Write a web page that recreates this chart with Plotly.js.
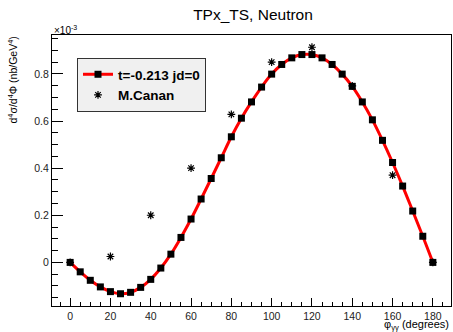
<!DOCTYPE html>
<html>
<head>
<meta charset="utf-8">
<script src="https://cdn.plot.ly/plotly-3.0.1.min.js"></script>
<style>html,body{margin:0;padding:0;background:#fff;}#plot{width:453px;height:332px;}</style>
</head>
<body>
<div id="plot"></div>
<script>
// phi_gamma-gamma in degrees
var phiModel = [0,5,10,15,20,25,30,35,40,45,50,55,60,65,70,75,80,85,90,95,100,105,110,115,120,125,130,135,140,145,150,155,160,165,170,175,180];
// cross section in units of 1e-3 nb/GeV^4, t=-0.213 jd=0
var csModel = [0,-0.040,-0.076,-0.104,-0.124,-0.133,-0.127,-0.106,-0.072,-0.024,0.035,0.106,0.184,0.269,0.356,0.444,0.533,0.612,0.681,0.744,0.799,0.840,0.868,0.882,0.882,0.868,0.840,0.799,0.747,0.681,0.605,0.518,0.424,0.324,0.218,0.111,0.0];
// M.Canan points
var phiCanan = [0,20,40,60,80,100,120,140,160,180];
var csCanan = [0,0.025,0.200,0.400,0.628,0.850,0.913,0.749,0.370,0];

var modelName = 't=-0.213 jd=0';
var cananName = 'M.Canan';
var yTicks = [0,0.2,0.4,0.6,0.8];
var yTickText = ['0','0.2','0.4','0.6','0.8'];
var xTicks = [0,20,40,60,80,100,120,140,160,180];

var FONT = 'Liberation Sans, Arial, Helvetica, sans-serif';

var traces = [
  {x: phiModel, y: csModel, name: modelName, type: 'scatter', mode: 'lines+markers',
   line: {color: '#ff0000', width: 3, shape: 'spline'},
   marker: {symbol: 'square', size: 7, color: '#000000'}},
  {x: phiCanan, y: csCanan, name: cananName, type: 'scatter', mode: 'markers',
   marker: {symbol: 'asterisk-open', size: 6.5, color: '#000000', line: {color: '#000000', width: 1.2}}}
];

var layout = {
  width: 453, height: 332,
  margin: {l: 52, r: 2, t: 35, b: 26, pad: 0},
  paper_bgcolor: '#ffffff', plot_bgcolor: '#ffffff',
  font: {family: FONT, color: '#000000', size: 10.5},
  showlegend: true,
  title: {text: 'TPx_TS, Neutron', font: {family: FONT, size: 15.5, color: '#000000'},
          x: 253/453, xref: 'container', xanchor: 'center', y: 1 - 15/332, yref: 'container', yanchor: 'middle'},
  xaxis: {range: [-9, 189], tickvals: xTicks, ticks: 'inside', ticklen: 8, tickwidth: 1, tickcolor: '#000',
          minor: {dtick: 5, ticks: 'inside', ticklen: 4, tickcolor: '#000', showgrid: false},
          showline: true, linecolor: '#000', linewidth: 1, mirror: true,
          showgrid: false, zeroline: false, tickfont: {family: FONT, size: 10.5, color: '#222'}},
  yaxis: {range: [-0.185, 0.965], tickvals: yTicks, ticktext: yTickText, ticks: 'inside', ticklen: 11, tickwidth: 1, tickcolor: '#000',
          minor: {dtick: 0.05, tick0: 0, ticks: 'inside', ticklen: 6, tickcolor: '#000', showgrid: false},
          showline: true, linecolor: '#000', linewidth: 1, mirror: true,
          showgrid: false, zeroline: false, tickfont: {family: FONT, size: 10.5, color: '#222'}},
  legend: {x: (77-52)/399, xanchor: 'left', y: (306-58)/271, yanchor: 'top',
           bgcolor: '#f0f0f0', bordercolor: '#333333', borderwidth: 1,
           font: {family: FONT, size: 13.5, color: '#000', weight: 'bold'}, tracegroupgap: 0},
  annotations: [
    {text: 'd<sup>4</sup>σ/d<sup>4</sup>Φ (nb/GeV<sup>4</sup>)', textangle: -90, xref: 'paper', yref: 'paper',
     x: (12-52)/399, y: 1, xanchor: 'center', yanchor: 'top', showarrow: false,
     font: {family: FONT, size: 10.5, color: '#000'}},
    {text: '×10<sup>-3</sup>', xref: 'paper', yref: 'paper', x: 0, y: 1, xanchor: 'left', yanchor: 'bottom',
     yshift: -3, showarrow: false, font: {family: FONT, size: 10, color: '#000'}},
    {text: 'φ<sub>γγ</sub> (degrees)', xref: 'paper', yref: 'paper', x: 1, y: (306-325)/271,
     xanchor: 'right', yanchor: 'middle', showarrow: false, font: {family: FONT, size: 11, color: '#000'}}
  ]
};

Plotly.newPlot('plot', traces, layout, {staticPlot: true, displayModeBar: false});
</script>
</body>
</html>
